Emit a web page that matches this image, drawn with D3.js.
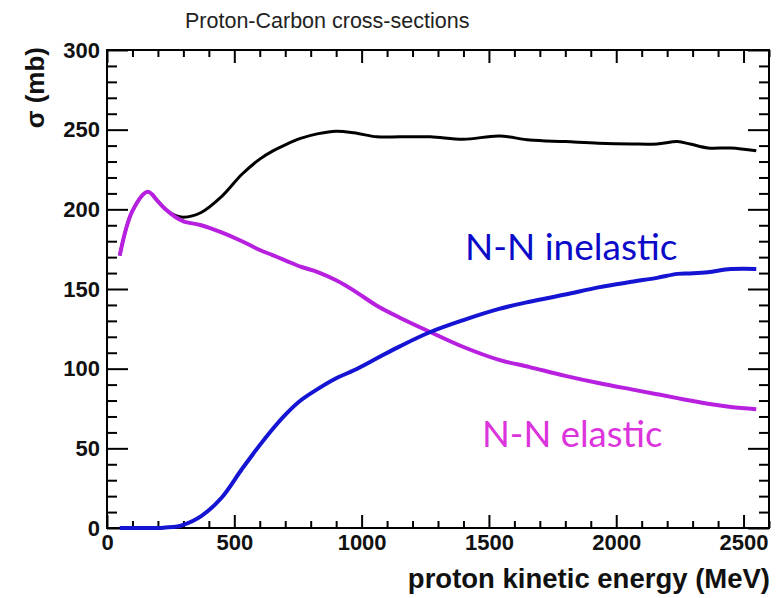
<!DOCTYPE html>
<html>
<head>
<meta charset="utf-8">
<script src="https://cdn.jsdelivr.net/npm/d3@7"></script>
<style>
  html, body { margin: 0; padding: 0; background: #fff; }
  svg { display: block; }
  .tick text { font-family: "Liberation Sans", Arial, sans-serif; font-weight: bold; font-size: 22px; fill: #111; }
  .tick line { stroke: #000; stroke-width: 2; }
  .domain { stroke: none; }
</style>
</head>
<body>
<svg id="chart" width="778" height="598"></svg>
<script>
// Proton kinetic energy grid (MeV)
const energy = [50, 100, 160, 200, 230, 270, 300, 370, 450, 530, 600, 650, 700, 760, 830, 900, 970,
                1060, 1150, 1270, 1400, 1540, 1660, 1800, 1930, 2060, 2160, 2240, 2290, 2360, 2450, 2550];

// Total proton-carbon cross-section (mb)
const sigmaTotal = [171, 199, 211, 205, 200, 196, 195, 198, 208, 222, 231.5, 236.5, 240.5, 244.5, 247.5, 249, 248,
                    245.5, 245.5, 245.5, 244, 246, 243.5, 242.5, 241.5, 241, 241, 242.5, 241, 238.5, 238.5, 236.7];

// N-N elastic contribution (mb)
const sigmaElastic = [171, 199, 211, 205, 200, 195, 192.5, 190, 185.5, 180, 174.5, 171.3, 168, 164, 160.5, 155.5, 149,
                      139.5, 132, 123, 113.6, 105.5, 101, 95.5, 91, 87, 84, 81.5, 80, 78, 76, 74.6];

// N-N inelastic contribution (mb)
const sigmaInelastic = [0, 0, 0, 0, 0.3, 0.8, 2, 7.5, 19, 37, 52, 62, 71, 80, 87.5, 94, 99,
                        106.5, 114, 123, 130.5, 137.5, 142, 146.5, 151, 154.5, 157, 159.5, 159.8, 160.5, 162.5, 162.6];

const xTicksMajor = [0, 500, 1000, 1500, 2000, 2500];
const yTicksMajor = [0, 50, 100, 150, 200, 250, 300];

const svg = d3.select("#chart");
const plotLeft = 107, plotRight = 769, plotTop = 50, plotBottom = 528;

const x = d3.scaleLinear().domain([0, 2600]).range([plotLeft, plotRight]);
const y = d3.scaleLinear().domain([0, 300]).range([plotBottom, plotTop]);

const xMinor = d3.range(0, 2601, 100).filter(v => v % 500 !== 0);
const yMinor = d3.range(0, 301, 10).filter(v => v % 50 !== 0);

// Bottom axis: labelled major ticks plus minor ticks, all pointing inward
svg.append("g").attr("transform", `translate(0,${plotBottom})`)
  .call(d3.axisBottom(x).tickValues(xTicksMajor).tickFormat(d3.format("d")).tickSizeInner(-13).tickSizeOuter(0).tickPadding(6));
svg.append("g").attr("transform", `translate(0,${plotBottom})`)
  .call(d3.axisBottom(x).tickValues(xMinor).tickFormat("").tickSizeInner(-7).tickSizeOuter(0));

// Top axis ticks
svg.append("g").attr("transform", `translate(0,${plotTop})`)
  .call(d3.axisTop(x).tickValues(xTicksMajor).tickFormat("").tickSizeInner(-13).tickSizeOuter(0));
svg.append("g").attr("transform", `translate(0,${plotTop})`)
  .call(d3.axisTop(x).tickValues(xMinor).tickFormat("").tickSizeInner(-7).tickSizeOuter(0));

// Left axis
svg.append("g").attr("transform", `translate(${plotLeft},0)`)
  .call(d3.axisLeft(y).tickValues(yTicksMajor).tickFormat(d3.format("d")).tickSizeInner(-21).tickSizeOuter(0).tickPadding(7));
svg.append("g").attr("transform", `translate(${plotLeft},0)`)
  .call(d3.axisLeft(y).tickValues(yMinor).tickFormat("").tickSizeInner(-10).tickSizeOuter(0));

// Right axis ticks
svg.append("g").attr("transform", `translate(${plotRight},0)`)
  .call(d3.axisRight(y).tickValues(yTicksMajor).tickFormat("").tickSizeInner(-21).tickSizeOuter(0));
svg.append("g").attr("transform", `translate(${plotRight},0)`)
  .call(d3.axisRight(y).tickValues(yMinor).tickFormat("").tickSizeInner(-10).tickSizeOuter(0));

// Frame
svg.append("rect")
  .attr("x", plotLeft).attr("y", plotTop)
  .attr("width", plotRight - plotLeft).attr("height", plotBottom - plotTop)
  .attr("fill", "none").attr("stroke", "#000").attr("stroke-width", 2);

// Curves
const line = series => d3.line()
  .x((d, i) => x(energy[i]))
  .y(d => y(d))
  .curve(d3.curveCatmullRom.alpha(0.5))(series);

svg.append("path").attr("d", line(sigmaTotal))
  .attr("fill", "none").attr("stroke", "#000").attr("stroke-width", 3).attr("stroke-linejoin", "round");
svg.append("path").attr("d", line(sigmaElastic))
  .attr("fill", "none").attr("stroke", "#b820e0").attr("stroke-width", 4).attr("stroke-linejoin", "round");
svg.append("path").attr("d", line(sigmaInelastic))
  .attr("fill", "none").attr("stroke", "#1414d2").attr("stroke-width", 4).attr("stroke-linejoin", "round");

// Title
svg.append("text")
  .attr("x", 185).attr("y", 28)
  .attr("font-family", "'Liberation Sans', Arial, sans-serif")
  .attr("font-size", 21.5).attr("fill", "#222")
  .text("Proton-Carbon cross-sections");

// Axis titles
svg.append("text")
  .attr("transform", "translate(44,47) rotate(-90)")
  .attr("text-anchor", "end")
  .attr("font-family", "'Liberation Sans', Arial, sans-serif")
  .attr("font-weight", "bold").attr("font-size", 26).attr("fill", "#111")
  .text("σ (mb)");

svg.append("text")
  .attr("x", 770).attr("y", 588)
  .attr("text-anchor", "end")
  .attr("font-family", "'Liberation Sans', Arial, sans-serif")
  .attr("font-weight", "bold").attr("font-size", 27.5).attr("fill", "#111")
  .text("proton kinetic energy (MeV)");

// Series annotations
svg.append("text")
  .attr("x", 465).attr("y", 260)
  .attr("font-family", "Lato, 'Open Sans', sans-serif")
  .attr("font-size", 37).attr("fill", "#0a0ac8")
  .text("N-N inelastic");

svg.append("text")
  .attr("x", 482).attr("y", 447)
  .attr("font-family", "Lato, 'Open Sans', sans-serif")
  .attr("font-size", 36.5).attr("fill", "#dc34dc")
  .text("N-N elastic");
</script>
</body>
</html>
